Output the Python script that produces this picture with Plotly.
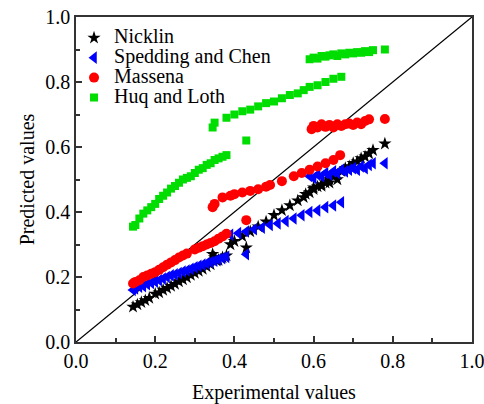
import plotly.graph_objects as go

series_names = ["Nicklin", "Spedding and Chen", "Massena", "Huq and Loth"]

# Nicklin
nick_x = [0.144, 0.155, 0.165, 0.175, 0.185, 0.20, 0.21, 0.22, 0.23, 0.24, 0.25, 0.26, 0.27, 0.28, 0.29,
          0.30, 0.31, 0.32, 0.33, 0.34, 0.345, 0.35, 0.355, 0.36, 0.37, 0.38, 0.43,
          0.39, 0.40, 0.42, 0.44, 0.46, 0.48, 0.50, 0.52, 0.54, 0.56, 0.575, 0.58, 0.59, 0.60, 0.61, 0.62,
          0.63, 0.64, 0.65, 0.66, 0.67, 0.68, 0.69, 0.70, 0.71, 0.72, 0.73, 0.74, 0.75, 0.78,
          0.60, 0.62, 0.64, 0.66]
nick_y = [0.108, 0.115, 0.122, 0.128, 0.135, 0.148, 0.152, 0.16, 0.166, 0.172, 0.178, 0.186, 0.192, 0.198, 0.206,
          0.212, 0.218, 0.224, 0.232, 0.238, 0.27, 0.26, 0.25, 0.252, 0.26, 0.266, 0.29,
          0.30, 0.31, 0.325, 0.34, 0.355, 0.37, 0.39, 0.405, 0.42, 0.435, 0.445, 0.455, 0.46, 0.47, 0.478, 0.485,
          0.49, 0.50, 0.51, 0.515, 0.525, 0.535, 0.54, 0.55, 0.555, 0.565, 0.57, 0.58, 0.59, 0.61,
          0.475, 0.48, 0.49, 0.50]

# Spedding and Chen
sped_x = [0.144, 0.15, 0.16, 0.17, 0.18, 0.19, 0.20, 0.21, 0.22, 0.23, 0.24, 0.25, 0.26, 0.27, 0.28, 0.29,
          0.30, 0.31, 0.32, 0.33, 0.34, 0.35, 0.36, 0.37, 0.38, 0.43,
          0.39, 0.41, 0.43, 0.45, 0.47, 0.49, 0.51, 0.53, 0.55, 0.57, 0.59, 0.61, 0.63, 0.65, 0.67,
          0.59, 0.60, 0.61, 0.62, 0.63, 0.64, 0.65, 0.66, 0.67, 0.68, 0.69, 0.70, 0.71, 0.72, 0.73, 0.74, 0.75, 0.78]
sped_y = [0.16, 0.165, 0.17, 0.172, 0.178, 0.182, 0.186, 0.19, 0.195, 0.20, 0.205, 0.208, 0.212, 0.217, 0.22, 0.225,
          0.23, 0.234, 0.238, 0.242, 0.246, 0.25, 0.254, 0.258, 0.262, 0.27,
          0.33, 0.335, 0.34, 0.347, 0.352, 0.36, 0.365, 0.372, 0.38, 0.39, 0.40, 0.405, 0.415, 0.42, 0.43,
          0.51, 0.505, 0.515, 0.51, 0.52, 0.515, 0.525, 0.52, 0.53, 0.525, 0.53, 0.535, 0.53, 0.54, 0.535, 0.545, 0.55, 0.55]

# Massena
mass_x = [0.144, 0.15, 0.16, 0.17, 0.18, 0.19, 0.20, 0.21, 0.22, 0.23, 0.24, 0.25, 0.26, 0.27, 0.28,
          0.30, 0.31, 0.32, 0.33, 0.34, 0.35, 0.36, 0.37, 0.38, 0.43,
          0.345, 0.35, 0.37, 0.39, 0.40, 0.42, 0.44, 0.46, 0.48, 0.49, 0.52, 0.55, 0.57, 0.59, 0.61, 0.63, 0.65, 0.667,
          0.595, 0.60, 0.61, 0.62, 0.63, 0.64, 0.65, 0.66, 0.67, 0.68, 0.69, 0.70, 0.71, 0.72, 0.73, 0.74, 0.78]
mass_y = [0.18, 0.185, 0.19, 0.20, 0.205, 0.21, 0.215, 0.222, 0.23, 0.238, 0.245, 0.252, 0.26, 0.266, 0.272,
          0.285, 0.29, 0.295, 0.30, 0.305, 0.31, 0.318, 0.325, 0.333, 0.375,
          0.415, 0.425, 0.445, 0.45, 0.455, 0.46, 0.465, 0.47, 0.478, 0.483, 0.495, 0.51, 0.52, 0.53, 0.54, 0.55, 0.56, 0.575,
          0.655, 0.665, 0.66, 0.67, 0.662, 0.668, 0.66, 0.67, 0.665, 0.67, 0.672, 0.668, 0.675, 0.67, 0.68, 0.685, 0.686]

# Huq and Loth
huq_x = [0.144, 0.15, 0.16, 0.17, 0.18, 0.19, 0.20, 0.21, 0.22, 0.23, 0.24, 0.25, 0.26, 0.27, 0.28, 0.29,
         0.30, 0.31, 0.32, 0.33, 0.34, 0.35, 0.36, 0.37, 0.38, 0.43,
         0.345, 0.35, 0.38, 0.40, 0.42, 0.44, 0.46, 0.48, 0.50, 0.52, 0.54, 0.56, 0.575, 0.59, 0.61, 0.63, 0.65, 0.67,
         0.59, 0.60, 0.61, 0.62, 0.63, 0.64, 0.65, 0.66, 0.67, 0.68, 0.69, 0.70, 0.71, 0.72, 0.73, 0.74, 0.75, 0.78]
huq_y = [0.355, 0.36, 0.38, 0.395, 0.405, 0.415, 0.425, 0.44, 0.45, 0.46, 0.472, 0.48, 0.49, 0.50, 0.505, 0.51,
         0.52, 0.53, 0.535, 0.545, 0.55, 0.56, 0.565, 0.57, 0.575, 0.62,
         0.66, 0.675, 0.69, 0.70, 0.71, 0.715, 0.725, 0.735, 0.74, 0.75, 0.76, 0.765, 0.775, 0.785, 0.79, 0.80, 0.81, 0.816,
         0.87, 0.875, 0.872, 0.88, 0.878, 0.882, 0.885, 0.88, 0.888, 0.885, 0.89, 0.888, 0.892, 0.89, 0.895, 0.892, 0.898, 0.90]

diag_x = [0.0, 1.0]
diag_y = [0.0, 1.0]

FONT = "Liberation Serif"


def big(name):
    return "<span style='font-size:20px'>" + name + "</span>"


fig = go.Figure()
fig.add_trace(go.Scatter(x=diag_x, y=diag_y, mode="lines", line=dict(color="black", width=1.3),
                         showlegend=False, hoverinfo="skip"))
fig.add_trace(go.Scatter(x=nick_x, y=nick_y, mode="markers", name=big(series_names[0]),
                         marker=dict(symbol="star", size=10, color="black", line=dict(width=0))))
fig.add_trace(go.Scatter(x=sped_x, y=sped_y, mode="markers", name=big(series_names[1]),
                         marker=dict(symbol="triangle-left", size=11, color="#0000ff", line=dict(width=0))))
fig.add_trace(go.Scatter(x=mass_x, y=mass_y, mode="markers", name=big(series_names[2]),
                         marker=dict(symbol="circle", size=10, color="#ff0000", line=dict(width=0))))
fig.add_trace(go.Scatter(x=huq_x, y=huq_y, mode="markers", name=big(series_names[3]),
                         marker=dict(symbol="square", size=8, color="#00dd00", line=dict(width=0))))

axis_common = dict(
    range=[0, 1], dtick=0.2, tickformat=".1f", ticks="inside", ticklen=6, tickwidth=1.5,
    tickcolor="#333", showline=True, linecolor="#333", linewidth=1.5, mirror=True,
    showgrid=False, zeroline=False, tickfont=dict(family=FONT, size=20, color="black"),
    minor=dict(ticks="inside", ticklen=4, tickwidth=1.5, tickcolor="#333", dtick=0.1),
    automargin=False, ticklabeloverflow="allow",
)

fig.update_layout(
    width=484, height=404,
    margin=dict(l=76, r=12, t=17, b=62),
    paper_bgcolor="white", plot_bgcolor="white",
    font=dict(family=FONT, size=20, color="black"),
    xaxis=dict(title=dict(text="Experimental values", font=dict(family=FONT, size=20), standoff=14), **axis_common),
    yaxis=dict(title=dict(text="Predicted values", font=dict(family=FONT, size=20), standoff=5), **axis_common),
    legend=dict(x=-0.005, y=0.982, xanchor="left", yanchor="top", bgcolor="rgba(0,0,0,0)",
                font=dict(family=FONT, size=13), itemwidth=30, tracegroupgap=0),
    showlegend=True,
)

fig.write_html("out.html")
